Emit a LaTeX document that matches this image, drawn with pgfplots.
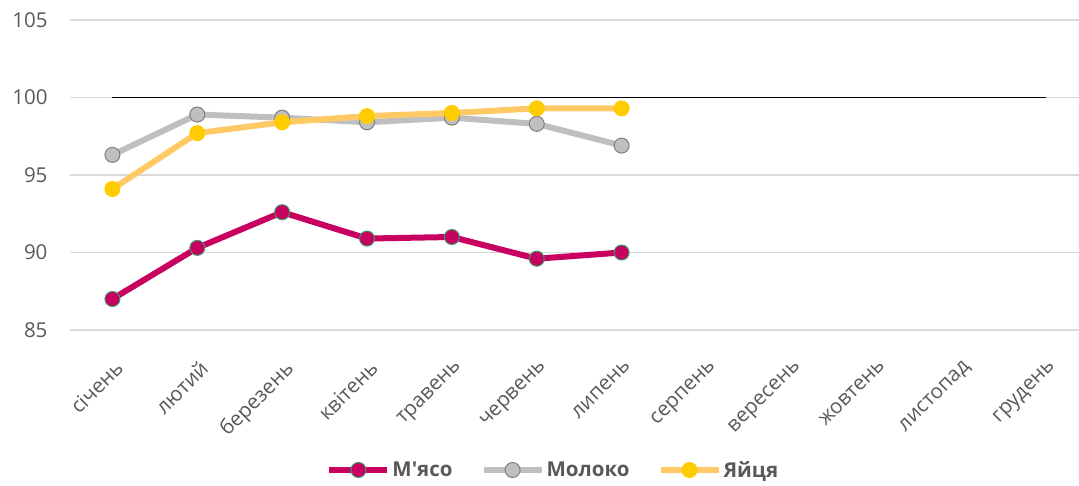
\documentclass[border=0pt]{standalone}
\usepackage{pgfplots}
\pgfplotsset{compat=1.18}
\usepackage{fontspec}
\setmainfont{Open Sans}[Ligatures=TeXOff]
\definecolor{meat}{HTML}{C8005F}
\definecolor{meatedge}{HTML}{3A9A6E}
\definecolor{milk}{HTML}{BFBFBF}
\definecolor{milkedge}{HTML}{7F7F7F}
\definecolor{eggline}{HTML}{FFCA66}
\definecolor{eggmark}{HTML}{FFCC00}
\definecolor{gridgray}{HTML}{D9D9D9}
\definecolor{labelgray}{HTML}{595959}
\begin{document}
\begin{tikzpicture}
\useasboundingbox (0,0) rectangle (1079pt,485pt);
\begin{axis}[
  at={(70pt,155pt)}, anchor=south west,
  scale only axis, width=1009pt, height=310pt,
  xmin=-0.5, xmax=11.39, ymin=85, ymax=105,
  ytick={85,90,95,100,105},
  xtick={0,1,2,3,4,5,6,7,8,9,10,11},
  xticklabels={січень,лютий,березень,квітень,травень,червень,липень,серпень,вересень,жовтень,листопад,грудень},
  axis line style={draw=none},
  major tick length=0pt,
  ymajorgrids,
  grid style={color=gridgray, line width=1.3pt},
  tick label style={font=\fontsize{20.5}{24}\selectfont, text=labelgray},
  /pgf/number format/assume math mode=true,
  yticklabel style={anchor=east, xshift=-19pt},
  xticklabel style={rotate=45, anchor=north east, yshift=-18pt, xshift=-16pt},
  legend style={at={(0.479,-0.4516)}, anchor=center, draw=none, fill=none,
    legend columns=3, font=\fontsize{20.5}{24}\selectfont\bfseries, text=labelgray,
    /tikz/every even column/.append style={column sep=26pt},
    inner sep=0pt},
  legend cell align=left,
  legend image code/.code={\draw[mark repeat=2,mark phase=2,#1] plot coordinates {(0pt,0pt) (29pt,0pt) (58pt,0pt)};},
]
\addplot[meat, line width=6pt, mark=*, mark size=7.5pt, mark options={fill=meat, draw=meatedge, line width=1pt}]
  coordinates {(0,87.0) (1,90.3) (2,92.6) (3,90.9) (4,91.0) (5,89.6) (6,90.0)};
\addlegendentry{М'ясо}
\addplot[milk, line width=6pt, mark=*, mark size=7.5pt, mark options={fill=milk, draw=milkedge, line width=1pt}]
  coordinates {(0,96.3) (1,98.9) (2,98.7) (3,98.4) (4,98.7) (5,98.3) (6,96.9)};
\addlegendentry{Молоко}
\addplot[eggline, line width=6pt, mark=*, mark size=7.5pt, mark options={fill=eggmark, draw=eggmark, line width=1pt}]
  coordinates {(0,94.1) (1,97.7) (2,98.4) (3,98.8) (4,99.0) (5,99.3) (6,99.3)};
\addlegendentry{Яйця}
\addplot[black, line width=1.8pt, forget plot]
  coordinates {(0,100) (1,100) (2,100) (3,100) (4,100) (5,100) (6,100) (7,100) (8,100) (9,100) (10,100) (11,100)};
\end{axis}
\end{tikzpicture}
\end{document}
